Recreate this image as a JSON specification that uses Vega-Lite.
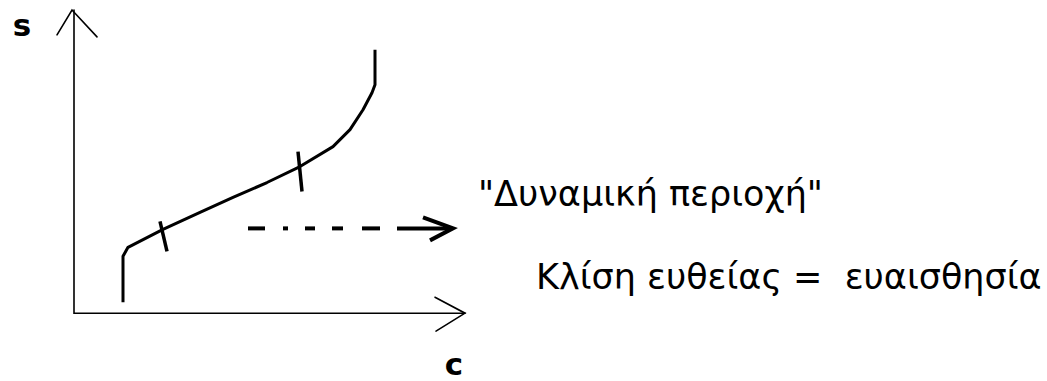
{
  "$schema": "https://vega.github.io/schema/vega-lite/v6.json",
  "width": 1047,
  "height": 381,
  "autosize": {"type": "fit", "contains": "padding"},
  "padding": 0,
  "background": "white",
  "config": {"view": {"stroke": null}},
  "datasets": {
    "lines": [
      {"kind": "axis", "seg": "yx", "ord": 1, "c": 0, "s": 30.4},
      {"kind": "axis", "seg": "yx", "ord": 2, "c": 0, "s": 0},
      {"kind": "axis", "seg": "yx", "ord": 3, "c": 39.1, "s": 0},
      {"kind": "axis", "seg": "ya", "ord": 1, "c": -1.7, "s": 27.9},
      {"kind": "axis", "seg": "ya", "ord": 2, "c": -0.2, "s": 30.4},
      {"kind": "axis", "seg": "ya", "ord": 3, "c": 2.3, "s": 27.7},
      {"kind": "axis", "seg": "xa", "ord": 1, "c": 36.1, "s": 1.6},
      {"kind": "axis", "seg": "xa", "ord": 2, "c": 39.1, "s": 0},
      {"kind": "axis", "seg": "xa", "ord": 3, "c": 36.2, "s": -1.8},
      {"kind": "curve", "seg": "cv", "ord": 1, "c": 4.9, "s": 1.1},
      {"kind": "curve", "seg": "cv", "ord": 2, "c": 4.9, "s": 5.7},
      {"kind": "curve", "seg": "cv", "ord": 3, "c": 5.4, "s": 6.6},
      {"kind": "curve", "seg": "cv", "ord": 4, "c": 8.9, "s": 8.4},
      {"kind": "curve", "seg": "cv", "ord": 5, "c": 12.6, "s": 10.1},
      {"kind": "curve", "seg": "cv", "ord": 6, "c": 15.9, "s": 11.6},
      {"kind": "curve", "seg": "cv", "ord": 7, "c": 19.3, "s": 13.1},
      {"kind": "curve", "seg": "cv", "ord": 8, "c": 22.6, "s": 14.7},
      {"kind": "curve", "seg": "cv", "ord": 9, "c": 25.9, "s": 16.7},
      {"kind": "curve", "seg": "cv", "ord": 10, "c": 27.6, "s": 18.4},
      {"kind": "curve", "seg": "cv", "ord": 11, "c": 28.9, "s": 20.4},
      {"kind": "curve", "seg": "cv", "ord": 12, "c": 29.8, "s": 22.1},
      {"kind": "curve", "seg": "cv", "ord": 13, "c": 30.1, "s": 22.9},
      {"kind": "curve", "seg": "cv", "ord": 14, "c": 30.1, "s": 26.4},
      {"kind": "tick", "seg": "t1", "ord": 1, "c": 8.6, "s": 9.2},
      {"kind": "tick", "seg": "t1", "ord": 2, "c": 9.3, "s": 6.2},
      {"kind": "tick", "seg": "t2", "ord": 1, "c": 22.4, "s": 16.2},
      {"kind": "tick", "seg": "t2", "ord": 2, "c": 22.8, "s": 12.2},
      {"kind": "dash", "seg": "d1", "ord": 1, "c": 17.4, "s": 8.5},
      {"kind": "dash", "seg": "d1", "ord": 2, "c": 19.1, "s": 8.5},
      {"kind": "dash", "seg": "d2", "ord": 1, "c": 20.9, "s": 8.5},
      {"kind": "dash", "seg": "d2", "ord": 2, "c": 21.4, "s": 8.5},
      {"kind": "dash", "seg": "d3", "ord": 1, "c": 23.1, "s": 8.5},
      {"kind": "dash", "seg": "d3", "ord": 2, "c": 24.1, "s": 8.5},
      {"kind": "dash", "seg": "d4", "ord": 1, "c": 25.8, "s": 8.5},
      {"kind": "dash", "seg": "d4", "ord": 2, "c": 26.9, "s": 8.5},
      {"kind": "dash", "seg": "d5", "ord": 1, "c": 28.8, "s": 8.5},
      {"kind": "dash", "seg": "d5", "ord": 2, "c": 30.6, "s": 8.5},
      {"kind": "dash", "seg": "d6", "ord": 1, "c": 32.3, "s": 8.5},
      {"kind": "dash", "seg": "d6", "ord": 2, "c": 37.7, "s": 8.5},
      {"kind": "dash", "seg": "dh", "ord": 1, "c": 34.9, "s": 9.6},
      {"kind": "dash", "seg": "dh", "ord": 2, "c": 37.9, "s": 8.5},
      {"kind": "dash", "seg": "dh", "ord": 3, "c": 35.6, "s": 7.3}
    ],
    "labels": [
      {"kind": "axislabel", "label": "s", "c": -5.2, "s": 27.8},
      {"kind": "axislabel", "label": "c", "c": 38.0, "s": -6.2},
      {"kind": "note", "label": "\"Δυναμική περιοχή\"", "c": 40.4, "s": 10.7},
      {"kind": "note", "label": "Κλίση ευθείας = \u00a0ευαισθησία", "c": 46.2, "s": 2.4}
    ]
  },
  "encoding": {
    "x": {"field": "c", "type": "quantitative", "scale": {"domain": [-7.4, 97.3], "nice": false, "zero": false}, "axis": null},
    "y": {"field": "s", "type": "quantitative", "scale": {"domain": [-6.7, 31.4], "nice": false, "zero": false}, "axis": null}
  },
  "layer": [
    {
      "data": {"name": "lines"},
      "transform": [{"filter": "datum.kind === 'axis'"}],
      "mark": {"type": "line", "color": "black", "strokeWidth": 1.6, "strokeCap": "round", "strokeJoin": "miter", "clip": false},
      "encoding": {"detail": {"field": "seg"}, "order": {"field": "ord", "type": "quantitative"}}
    },
    {
      "data": {"name": "lines"},
      "transform": [{"filter": "datum.kind === 'curve'"}],
      "mark": {"type": "line", "color": "black", "strokeWidth": 3, "strokeCap": "butt", "strokeJoin": "round"},
      "encoding": {"detail": {"field": "seg"}, "order": {"field": "ord", "type": "quantitative"}}
    },
    {
      "data": {"name": "lines"},
      "transform": [{"filter": "datum.kind === 'tick'"}],
      "mark": {"type": "line", "color": "black", "strokeWidth": 3.5, "strokeCap": "butt"},
      "encoding": {"detail": {"field": "seg"}, "order": {"field": "ord", "type": "quantitative"}}
    },
    {
      "data": {"name": "lines"},
      "transform": [{"filter": "datum.kind === 'dash'"}],
      "mark": {"type": "line", "color": "black", "strokeWidth": 4, "strokeCap": "butt", "strokeJoin": "miter"},
      "encoding": {"detail": {"field": "seg"}, "order": {"field": "ord", "type": "quantitative"}}
    },
    {
      "data": {"name": "labels"},
      "transform": [{"filter": "datum.kind === 'axislabel'"}],
      "mark": {"type": "text", "font": "DejaVu Sans", "fontSize": 31, "fontWeight": "bold", "align": "center", "baseline": "alphabetic", "color": "black"},
      "encoding": {"text": {"field": "label"}}
    },
    {
      "data": {"name": "labels"},
      "transform": [{"filter": "datum.kind === 'note'"}],
      "mark": {"type": "text", "font": "DejaVu Sans", "fontSize": 35, "align": "left", "baseline": "alphabetic", "color": "black"},
      "encoding": {"text": {"field": "label"}}
    }
  ]
}
